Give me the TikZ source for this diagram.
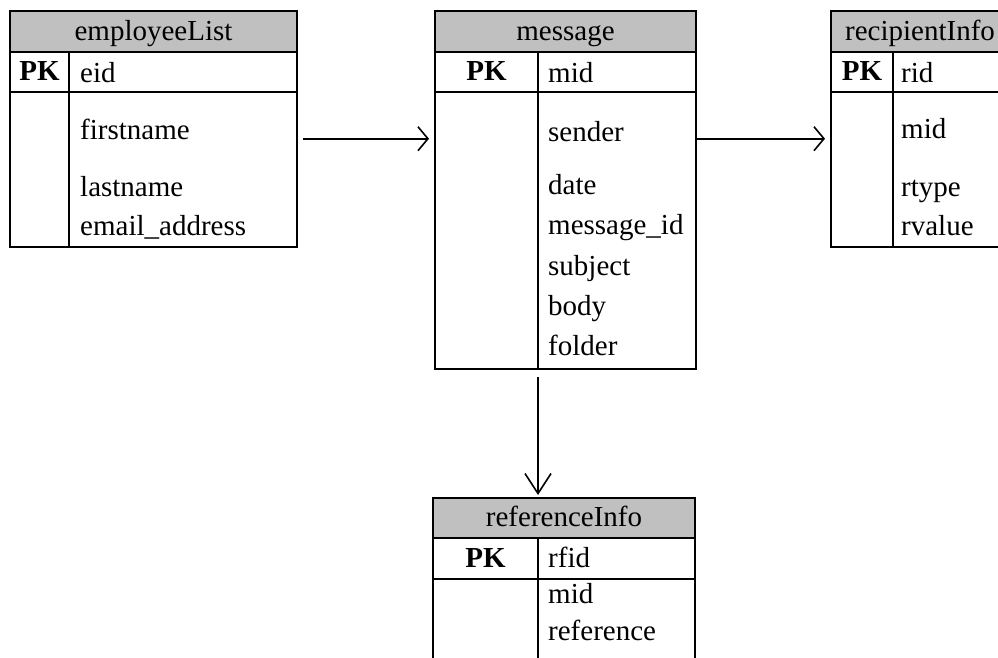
\documentclass[tikz,border=0pt]{standalone}
\usepackage{fontspec}
\setmainfont{Liberation Serif}
\usetikzlibrary{arrows.meta}
\definecolor{hdrgray}{RGB}{192,192,192}

\begin{document}
\begin{tikzpicture}[x=1pt,y=-1pt,
  font=\fontsize{29}{34}\selectfont,
  cell/.style={draw,line width=1.8pt,inner sep=0pt,outer sep=0pt,anchor=north west,
    text height=21.75pt,text depth=4.35pt},
  hdr/.style={cell,fill=hdrgray},
  pk/.style={cell,font=\fontsize{29}{34}\selectfont\bfseries},
  field/.style={inner sep=0pt,anchor=base west},
  fk/.style={line width=1.6pt,-{Straight Barb[length=10pt,width=24pt]}}]
\useasboundingbox (0,0) rectangle (998,657);

\node[hdr,minimum width=287pt,minimum height=41pt] (empH) at (10,11) {employeeList};
\node[pk,minimum width=59pt,minimum height=40pt] (empPK) at (10,52) {PK};
\node[cell,minimum width=228pt,minimum height=40pt] (empKey) at (69,52) {};
\node[cell,minimum width=59pt,minimum height=155pt] (empL) at (10,92) {};
\node[cell,minimum width=228pt,minimum height=155pt] (empR) at (69,92) {};
\node[field] (empEid) at (80,82) {eid};
\node[field] (empFirst) at (80,139) {firstname};
\node[field] (empLast) at (80,196) {lastname};
\node[field] (empMail) at (80,235) {email\_address};

\node[hdr,minimum width=261pt,minimum height=41pt] (msgH) at (435,11) {message};
\node[pk,minimum width=103pt,minimum height=40pt] (msgPK) at (435,52) {PK};
\node[cell,minimum width=158pt,minimum height=40pt] (msgKey) at (538,52) {};
\node[cell,minimum width=103pt,minimum height=277pt] (msgL) at (435,92) {};
\node[cell,minimum width=158pt,minimum height=277pt] (msgR) at (538,92) {};
\node[field] (msgMid) at (548,82) {mid};
\node[field] (msgSender) at (548,141) {sender};
\node[field] (msgDate) at (548,194) {date};
\node[field] (msgId) at (548,234) {message\_id};
\node[field] (msgSubject) at (548,275) {subject};
\node[field] (msgBody) at (548,315) {body};
\node[field] (msgFolder) at (548,355) {folder};

\node[hdr,minimum width=178pt,minimum height=41pt] (recH) at (831,11) {recipientInfo};
\node[pk,minimum width=62pt,minimum height=40pt] (recPK) at (831,52) {PK};
\node[cell,minimum width=116pt,minimum height=40pt] (recKey) at (893,52) {};
\node[cell,minimum width=62pt,minimum height=155pt] (recL) at (831,92) {};
\node[cell,minimum width=116pt,minimum height=155pt] (recR) at (893,92) {};
\node[field] (recRid) at (901,82) {rid};
\node[field] (recMid) at (901,138) {mid};
\node[field] (recType) at (901,196) {rtype};
\node[field] (recValue) at (901,235) {rvalue};

\node[hdr,minimum width=262pt,minimum height=40pt] (refH) at (433,498) {referenceInfo};
\node[pk,minimum width=105pt,minimum height=41pt] (refPK) at (433,538) {PK};
\node[cell,minimum width=157pt,minimum height=41pt] (refKey) at (538,538) {};
\node[cell,minimum width=105pt,minimum height=120pt] (refL) at (433,579) {};
\node[cell,minimum width=157pt,minimum height=120pt] (refR) at (538,579) {};
\node[field] (refRfid) at (548,567) {rfid};
\node[field] (refMid) at (548,603) {mid};
\node[field] (refRef) at (548,640) {reference};

\draw[fk,shorten <=6pt,shorten >=6pt] (empR.east |- msgSender.mid) -- (msgL.west |- msgSender.mid);
\draw[fk,shorten <=1pt,shorten >=6pt] (msgR.east |- msgSender.mid) -- (recL.west |- msgSender.mid);
\draw[fk,-{Straight Barb[length=20pt,width=26pt]},shorten <=8pt,shorten >=3pt]
  (msgL.south east) -- (msgL.south east |- refH.north);
\end{tikzpicture}
\end{document}
